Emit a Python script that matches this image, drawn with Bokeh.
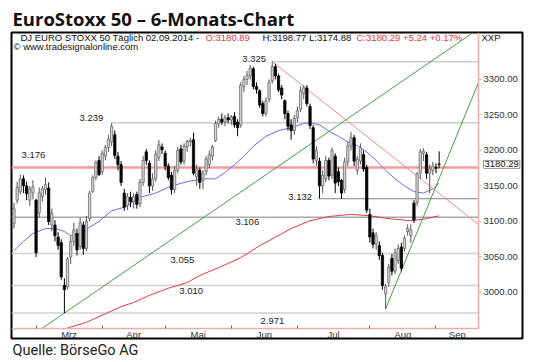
from bokeh.plotting import figure
from bokeh.models import (ColumnDataSource, Label, FixedTicker, NumeralTickFormatter,
                          Range1d, Title)
from bokeh.embed import file_html
from bokeh.resources import INLINE

# ---------------- data (daily bars, 20.02.2014 - 02.09.2014) ----------------
month_names = ["Mrz", "Apr", "Mai", "Jun", "Jul", "Aug", "Sep"]
month_start_idx = [7, 28, 48, 69, 90, 113, 134]   # first trading day of each month

opens = [3097, 3130, 3142, 3160, 3150, 3130, 3140, 3130, 3112, 3135,
         3145, 3147, 3095, 3095, 3078, 3070, 3010, 3008, 3050, 3072,
         3083, 3065, 3095, 3062, 3104, 3142, 3162, 3186, 3170, 3192,
         3204, 3212, 3222, 3192, 3180, 3140, 3122, 3134, 3128, 3138,
         3125, 3155, 3198, 3182, 3150, 3160, 3190, 3205, 3196, 3178,
         3165, 3145, 3172, 3202, 3185, 3205, 3212, 3215, 3163, 3172,
         3158, 3170, 3180, 3192, 3214, 3238, 3244, 3240, 3246, 3243,
         3248, 3240, 3236, 3290, 3300, 3305, 3315, 3290, 3284, 3266,
         3252, 3272, 3298, 3318, 3305, 3288, 3270, 3252, 3236, 3228,
         3246, 3258, 3280, 3288, 3262, 3232, 3186, 3185, 3150, 3160,
         3186, 3165, 3192, 3170, 3158, 3145, 3184, 3206, 3218, 3172,
         3185, 3194, 3176, 3110, 3084, 3068, 3066, 3052, 2998, 3014,
         3048, 3030, 3045, 3064, 3062, 3086, 3080, 3126, 3127, 3168,
         3196, 3194, 3168, 3172, 3176, 3180.89]
highs = [3126, 3156, 3166, 3165, 3156, 3150, 3158, 3132, 3148, 3150,
         3162, 3155, 3118, 3102, 3085, 3075, 3020, 3050, 3080, 3098,
         3090, 3105, 3100, 3108, 3143, 3165, 3186, 3192, 3200, 3208,
         3222, 3239, 3228, 3198, 3185, 3146, 3140, 3142, 3140, 3142,
         3160, 3192, 3202, 3186, 3168, 3200, 3215, 3210, 3200, 3182,
         3170, 3178, 3205, 3208, 3210, 3215, 3218, 3225, 3180, 3176,
         3172, 3192, 3200, 3208, 3242, 3248, 3252, 3250, 3252, 3250,
         3254, 3244, 3296, 3305, 3312, 3320, 3318, 3296, 3286, 3270,
         3275, 3300, 3325, 3322, 3308, 3292, 3272, 3256, 3244, 3250,
         3262, 3290, 3292, 3292, 3266, 3236, 3206, 3190, 3172, 3192,
         3190, 3204, 3196, 3176, 3160, 3190, 3212, 3226, 3222, 3192,
         3210, 3200, 3180, 3118, 3090, 3085, 3072, 3056, 3012, 3040,
         3054, 3062, 3068, 3070, 3080, 3096, 3096, 3130, 3170, 3202,
         3203, 3198, 3180, 3184, 3182, 3198.77]
lows = [3090, 3125, 3138, 3140, 3130, 3122, 3131, 3050, 3105, 3128,
        3138, 3095, 3086, 3072, 3060, 3018, 2971, 3004, 3040, 3065,
        3052, 3060, 3053, 3058, 3100, 3140, 3158, 3164, 3166, 3186,
        3198, 3206, 3188, 3172, 3150, 3115, 3116, 3120, 3118, 3118,
        3120, 3150, 3180, 3140, 3143, 3156, 3185, 3195, 3172, 3158,
        3138, 3140, 3168, 3180, 3180, 3198, 3206, 3165, 3150, 3146,
        3145, 3165, 3175, 3186, 3212, 3232, 3236, 3234, 3238, 3236,
        3232, 3220, 3232, 3282, 3292, 3300, 3286, 3280, 3260, 3248,
        3248, 3268, 3294, 3300, 3282, 3272, 3244, 3228, 3215, 3222,
        3240, 3254, 3272, 3262, 3230, 3182, 3178, 3132, 3140, 3155,
        3158, 3160, 3140, 3150, 3132, 3140, 3178, 3200, 3178, 3166,
        3180, 3170, 3112, 3070, 3062, 3060, 3046, 3004, 2977, 3008,
        3024, 3026, 3040, 3030, 3058, 3080, 3070, 3098, 3122, 3160,
        3185, 3160, 3140, 3165, 3168, 3174.88]
closes = [3118, 3148, 3160, 3150, 3139, 3146, 3149, 3056, 3140, 3146,
          3152, 3100, 3112, 3080, 3066, 3022, 3004, 3047, 3072, 3088,
          3060, 3098, 3062, 3100, 3140, 3162, 3183, 3166, 3196, 3204,
          3216, 3234, 3193, 3180, 3155, 3120, 3135, 3128, 3135, 3124,
          3155, 3186, 3186, 3150, 3160, 3195, 3208, 3201, 3178, 3162,
          3145, 3172, 3200, 3184, 3206, 3213, 3214, 3168, 3174, 3155,
          3168, 3188, 3194, 3205, 3238, 3244, 3240, 3246, 3243, 3247,
          3236, 3232, 3292, 3300, 3306, 3316, 3290, 3286, 3264, 3252,
          3270, 3296, 3318, 3305, 3285, 3278, 3252, 3234, 3228, 3245,
          3256, 3284, 3288, 3266, 3235, 3188, 3200, 3150, 3165, 3186,
          3164, 3200, 3154, 3156, 3140, 3184, 3206, 3218, 3185, 3188,
          3204, 3174, 3116, 3078, 3068, 3080, 3052, 3010, 3008, 3036,
          3030, 3056, 3062, 3034, 3076, 3090, 3088, 3102, 3167, 3198,
          3199, 3168, 3174, 3178, 3175, 3180.29]

# moving averages (vertices: bar index, value)
ma_blue_idx = [0, 3, 6, 10, 13, 16, 18, 21, 24, 27, 31, 35, 40, 45, 50, 55, 60, 64,
               67, 70, 73, 76, 80, 84, 88, 92, 94, 97, 100, 103, 106, 109, 112, 115,
               118, 121, 124, 127, 130, 133, 135]
ma_blue = [3059, 3072, 3083, 3090, 3090, 3086, 3080, 3083, 3092, 3100, 3115, 3120,
           3134, 3140, 3150, 3156, 3160, 3160, 3169, 3180, 3192, 3206, 3220, 3228,
           3232, 3238, 3239, 3236, 3227, 3220, 3212, 3207, 3198, 3186, 3172, 3160,
           3150, 3142, 3140, 3146, 3154]
ma_red_idx = [17, 23, 28, 34, 38, 43, 49, 55, 59, 65, 72, 78, 81, 88, 94,
              100, 107, 113, 119, 126, 131, 135]
ma_red = [2950, 2958, 2968, 2980, 2986, 2996, 3006, 3014, 3024, 3035,
          3049, 3066, 3073, 3090, 3101, 3107, 3110, 3108, 3104, 3101, 3104, 3108]

# horizontal support / resistance levels
levels = [3325, 3239, 3176, 3132, 3106, 3055, 3010, 2971]
level_start = [82, 31, None, 97, None, None, None, None]   # bar where the line begins

# trend lines: anchor bar, anchor value, slope per bar
trend_red = (82, 3325, -3.5)
trend_green_long = (16, 2971, 3.044)
trend_green_steep = (118, 2977, 10.8)

price_ticks = [3000, 3050, 3100, 3150, 3200, 3250, 3300]
last_price = 3180.29

# ---------------- layout / style ----------------
X_LEFT, X_AXIS, X_RIGHT = -0.80, 147.5, 161.47      # frame edges and price-axis position
Y_BOTTOM, Y_AXIS, Y_TOP = 2935.2, 2949.3, 3366.1     # frame edges and time-axis position
PINK = "#f0aaaa"
FONT = "Liberation Sans"
RED = "#e8383d"

p = figure(width=540, height=362, output_backend="svg", toolbar_location=None,
           x_range=Range1d(X_LEFT, X_RIGHT), y_range=Range1d(Y_BOTTOM, Y_TOP),
           y_axis_location="right", min_border_left=11, min_border_right=18,
           min_border_top=32, min_border_bottom=24)
p.grid.visible = False
p.outline_line_color = "black"
p.outline_line_width = 2
p.background_fill_color = "white"
p.border_fill_color = "white"

p.title.text = "EuroStoxx 50 \u2013 6-Monats-Chart"
p.title.align = "left"
p.title.text_font = "Open Sans"
p.title.text_font_style = "bold"
p.title.text_font_size = "18.5px"
p.title.text_color = "#111111"
p.title.standoff = 3
p.title.offset = 1

p.add_layout(Title(text="Quelle: B\u00f6rseGo AG", align="left", text_font="Roboto",
                   text_font_size="14.5px", text_font_style="normal", text_color="#222222",
                   standoff=2, offset=1), "below")

# price axis (drawn inside the box)
ya = p.yaxis[0]
ya.fixed_location = X_AXIS
ya.bounds = (Y_AXIS, Y_TOP)
ya.ticker = FixedTicker(ticks=price_ticks)
ya.formatter = NumeralTickFormatter(format="0.00")
ya.axis_line_color = PINK
ya.axis_line_width = 1.5
ya.major_tick_line_color = PINK
ya.major_tick_in = 0
ya.major_tick_out = 3
ya.minor_tick_line_color = None
ya.major_label_text_font = FONT
ya.major_label_text_font_size = "9.5px"
ya.major_label_text_color = "#333333"
ya.major_label_standoff = 2

# time axis
month_mid = [(a + b) / 2 for a, b in zip(month_start_idx, month_start_idx[1:] + [X_AXIS])]
xa = p.xaxis[0]
xa.fixed_location = Y_AXIS
xa.bounds = (X_LEFT, X_AXIS)
xa.ticker = FixedTicker(ticks=month_mid, minor_ticks=month_start_idx)
xa.major_label_overrides = {m: name for m, name in zip(month_mid, month_names)}
xa.major_tick_line_color = None
xa.major_tick_in = 0
xa.major_tick_out = 0
xa.minor_tick_in = 3
xa.minor_tick_out = 0
xa.minor_tick_line_color = "#666666"
xa.axis_line_color = PINK
xa.axis_line_width = 1.5
xa.major_label_standoff = 1
xa.major_label_text_font = FONT
xa.major_label_text_font_size = "9.5px"
xa.major_label_text_color = "#333333"

# level lines
level_colors = {3325: "#cccccc", 3239: "#cccccc", 3176: "#f19c9c", 3132: "#808080",
                3106: "#a8a8a8", 3055: "#d0d0d0", 3010: "#d0d0d0", 2971: "#d0d0d0"}
level_widths = {3325: 1.5, 3239: 1.5, 3176: 2.5, 3132: 1, 3106: 1.5, 3055: 1.5,
                3010: 1.5, 2971: 1.5}
for lv, st in zip(levels, level_start):
    x0 = X_LEFT if st is None else st
    p.segment(x0=[x0], y0=[lv], x1=[X_AXIS], y1=[lv], line_color=level_colors[lv],
              line_width=level_widths[lv], level="underlay" if lv != 3176 else "glyph")

# level labels: (bar position of text, pixel offset from the line)
label_layout = {3325: (72.5, 3), 3239: (20.8, 5), 3176: (2.4, 12.5), 3132: (87.1, 2),
                3106: (70.3, -4.5), 3055: (49.7, -6.5), 3010: (52.5, -5.6), 2971: (78.3, -8.2)}
for lv in levels:
    lx, off = label_layout[lv]
    txt = f"{lv:,}".replace(",", ".")
    p.add_layout(Label(x=lx, y=lv, y_offset=off, text=txt, text_baseline="middle",
                       text_font=FONT, text_font_size="9.5px", text_color="#222222"))

# moving averages
p.line(ma_red_idx, ma_red, line_color="#e23c3c", line_width=1)
p.line(ma_blue_idx, ma_blue, line_color="#6b6bf0", line_width=1)

# trend lines (limited to the chart area left of the price axis, above the time axis)
def trend_pts(tr, x0, x1):
    i0, v0, s = tr
    return [x0, x1], [v0 + s * (x0 - i0), v0 + s * (x1 - i0)]

def upper_end(tr):
    i0, v0, s = tr
    return min(X_AXIS, i0 + (Y_TOP - v0) / s)

xs, ys = trend_pts(trend_red, trend_red[0], X_AXIS)
p.line(xs, ys, line_color="#f08a8a", line_width=1)
g0 = trend_green_long
xs, ys = trend_pts(g0, g0[0] + (Y_AXIS - g0[1]) / g0[2], upper_end(g0))
p.line(xs, ys, line_color="#44a044", line_width=1)
g1 = trend_green_steep
xs, ys = trend_pts(g1, g1[0], upper_end(g1))
p.line(xs, ys, line_color="#44a044", line_width=1)

# candles
n = len(closes)
up = [i for i in range(n) if closes[i] >= opens[i]]
dn = [i for i in range(n) if closes[i] < opens[i]]

def src(ids):
    return ColumnDataSource(dict(
        x=ids,
        high=[highs[i] for i in ids], low=[lows[i] for i in ids],
        top=[max(opens[i], closes[i]) for i in ids],
        bottom=[min(opens[i], closes[i]) for i in ids]))

s_up, s_dn = src(up), src(dn)
p.segment(x0="x", y0="high", x1="x", y1="low", source=s_up, line_color="#555555", line_width=1)
p.segment(x0="x", y0="high", x1="x", y1="low", source=s_dn, line_color="#000000", line_width=1)
p.vbar(x="x", width=0.72, top="top", bottom="bottom", source=s_up,
       fill_color="#d6d6d6", line_color="#6a6a6a", line_width=0.8)
p.vbar(x="x", width=0.72, top="top", bottom="bottom", source=s_dn,
       fill_color="#000000", line_color="#000000", line_width=0.8)

# header texts (pixel offsets from the top-left corner of the box)
def head(dx, dy, text, color="#111111"):
    p.add_layout(Label(x=X_LEFT, y=Y_TOP, x_offset=dx, y_offset=dy, text=text,
                       text_color=color, text_font=FONT, text_font_size="9.5px",
                       text_baseline="middle"))

head(9, -4.5, "DJ EURO STOXX 50 T\u00e4glich  02.09.2014 - ")
head(194, -4.5, "O:3180.89", RED)
head(251, -4.5, "H:3198.77 L:3174.88")
head(345, -4.5, "C:3180.29 +5.24 +0.17%", RED)
head(470, -4.5, "XXP")
head(2, -14, "\u00a9 www.tradesignalonline.com")

# last price tag
p.add_layout(Label(x=X_AXIS, y=last_price, x_offset=5, text=f"{last_price:.2f}",
                   text_baseline="middle", text_font=FONT, text_font_size="9.5px",
                   text_color="#111111", background_fill_color="white",
                   border_line_color="#999999", padding=1))

open("out.html", "w").write(file_html(p, INLINE))
